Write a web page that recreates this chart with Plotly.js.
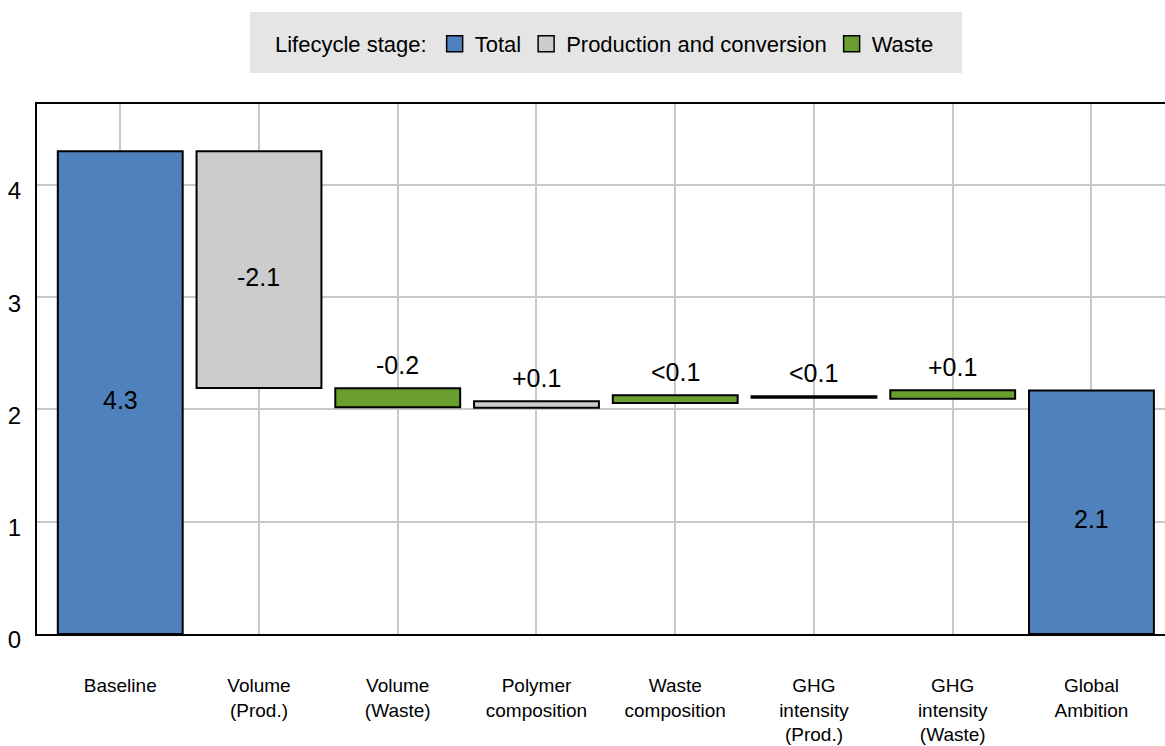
<!DOCTYPE html>
<html>
<head>
<meta charset="utf-8">
<script src="https://cdn.plot.ly/plotly-3.0.1.min.js"></script>
<style>html,body{margin:0;padding:0;background:#fff;}#chart{width:1165px;height:746px;}</style>
</head>
<body>
<div id="chart"></div>
<script>
// Categories (x axis)
const categories = ["Baseline", "Volume<br>(Prod.)", "Volume<br>(Waste)", "Polymer<br>composition",
  "Waste<br>composition", "GHG<br>intensity<br>(Prod.)", "GHG<br>intensity<br>(Waste)", "Global<br>Ambition"];

// Total stage
const totalCats = ["Baseline", "Global<br>Ambition"];
const totalBase = [0, 0];
const totalValues = [4.3, 2.168];
const totalLabels = ["4.3", "2.1"];

// Production and conversion stage
const prodCats = ["Volume<br>(Prod.)", "Polymer<br>composition", "GHG<br>intensity<br>(Prod.)"];
const prodBase = [2.19, 2.016, 2.104];
const prodValues = [2.11, 0.057, 0.014];
const prodLabels = ["-2.1", "+0.1", "<0.1"];

// Waste stage
const wasteCats = ["Volume<br>(Waste)", "Waste<br>composition", "GHG<br>intensity<br>(Waste)"];
const wasteBase = [2.02, 2.058, 2.094];
const wasteValues = [0.169, 0.069, 0.077];
const wasteLabels = ["-0.2", "<0.1", "+0.1"];

const seriesNames = ["Total", "Production and conversion", "Waste"];
const colors = ["#4F81BD", "#CCCCCC", "#6A9E2F"];

const FONT = "Liberation Sans, Arial, sans-serif";
const labelFont = {family: FONT, size: 25, color: "#000"};

const series = [
  {name: seriesNames[0], cats: totalCats, base: totalBase, vals: totalValues, labels: totalLabels, color: colors[0], pos: ["inside", "inside"]},
  {name: seriesNames[1], cats: prodCats, base: prodBase, vals: prodValues, labels: prodLabels, color: colors[1], pos: ["inside", "outside", "outside"]},
  {name: seriesNames[2], cats: wasteCats, base: wasteBase, vals: wasteValues, labels: wasteLabels, color: colors[2], pos: ["outside", "outside", "outside"]}
];

const traces = [];
const annotations = [];
series.forEach(s => {
  traces.push({
    type: "bar", name: s.name, x: s.cats, y: s.vals, base: s.base,
    width: 0.9, marker: {color: s.color, line: {color: "#000", width: 2}},
    showlegend: false, hoverinfo: "skip"
  });
  s.cats.forEach((c, i) => {
    const inside = s.pos[i] === "inside";
    annotations.push({
      x: c, y: inside ? s.base[i] + s.vals[i] / 2 : s.base[i] + s.vals[i],
      xref: "x", yref: "y", text: s.labels[i], showarrow: false,
      yanchor: inside ? "middle" : "bottom", yshift: inside ? -7 : 7,
      font: labelFont
    });
  });
});
// legend entries
seriesNames.forEach((n, i) => {
  traces.push({
    type: "scatter", mode: "markers", name: n, x: [null], y: [null],
    marker: {symbol: "square", size: 16, color: colors[i], line: {color: "#000", width: 1.5}},
    showlegend: true, hoverinfo: "skip"
  });
});

const layout = {
  width: 1165, height: 746,
  margin: {l: 37, r: 0, t: 104, b: 112, pad: 0},
  paper_bgcolor: "#fff", plot_bgcolor: "#fff",
  font: {family: FONT, size: 20, color: "#000"},
  barmode: "overlay",
  showlegend: true,
  legend: {
    orientation: "h", x: 606 / 1165, xanchor: "center", xref: "container",
    y: 1 - 44 / 746, yanchor: "middle", yref: "container",
    bgcolor: "rgba(0,0,0,0)", borderwidth: 0,
    font: {family: FONT, size: 22, color: "#000"},
    title: {text: "Lifecycle stage:", side: "left", font: {family: FONT, size: 22, color: "#000"}},
    itemclick: false, itemdoubleclick: false
  },
  shapes: [{
    type: "rect", xref: "paper", yref: "paper", layer: "below",
    x0: (250 - 37) / 1128, x1: (962 - 37) / 1128,
    y0: (634 - 73) / 530, y1: (634 - 12) / 530,
    fillcolor: "#E5E5E5", line: {width: 0}
  }],
  annotations: annotations,
  xaxis: {
    type: "category", categoryorder: "array", categoryarray: categories,
    range: [-0.6, 7.53],
    showgrid: true, gridcolor: "#C8C8C8", gridwidth: 2,
    showline: true, linecolor: "#000", linewidth: 2, mirror: true,
    ticks: "", tickfont: {family: FONT, size: 19, color: "#000"},
    ticklabelstandoff: 33, zeroline: false
  },
  yaxis: {
    range: [0, 4.72], tickvals: [0, 1, 2, 3, 4],
    showgrid: true, gridcolor: "#C8C8C8", gridwidth: 2,
    showline: true, linecolor: "#000", linewidth: 2, mirror: false,
    ticks: "", tickfont: {family: FONT, size: 24, color: "#000"},
    ticklabelstandoff: 9, ticklabelshift: 6, zeroline: false
  },
  hovermode: false
};

Plotly.newPlot("chart", traces, layout, {displayModeBar: false, staticPlot: true});
</script>
</body>
</html>
